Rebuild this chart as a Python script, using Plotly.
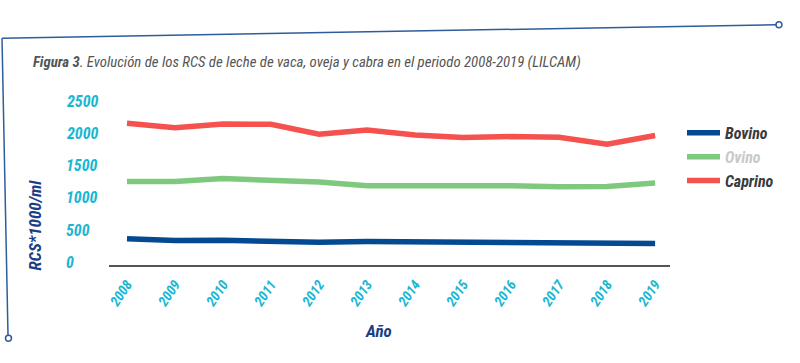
import plotly.graph_objects as go

years = list(range(2008, 2020))
bovino = [366, 340, 344, 329, 313, 324, 319, 313, 293, 293, 293, 293]
ovino = [1255, 1255, 1301, 1270, 1245, 1188, 1193, 1177, 1188, 1173, 1177, 1230]
caprino = [2156, 2088, 2145, 2140, 1986, 2052, 1975, 1934, 1949, 1940, 1832, 1965]
y_ticks = [0, 500, 1000, 1500, 2000, 2500]

FONT = "Liberation Sans Narrow, Roboto Condensed, DejaVu Sans Condensed, Arial Narrow, Roboto, sans-serif"
CYAN = "#1ab6d2"
NAVY = "#1b3f86"
DECO = "#2d5d9c"

W, H = 800, 363
L, R, T, B = 109, 130, 101, 97.5

fig = go.Figure()
fig.add_trace(go.Scatter(x=years, y=bovino, mode="lines", name="Bovino", legendgroup="a",
                         line=dict(color="#034a93", width=5.5)))
fig.add_trace(go.Scatter(x=years, y=ovino, mode="lines", legendgroup="b",
                         name="<span style='color:#c9c9c9'>Ovino</span>",
                         line=dict(color="#7fc97f", width=5.5)))
fig.add_trace(go.Scatter(x=years, y=caprino, mode="lines", name="Caprino", legendgroup="c",
                         line=dict(color="#f5524f", width=5.5)))

pw = W - L - R
ph = H - T - B

def px_x(px):
    return (px - L) / pw

def px_y(py):
    return (H - B - py) / ph

annotations = []
for v in y_ticks:
    annotations.append(dict(x=px_x(64), xref="paper", y=v, yref="y", text=str(v),
                            showarrow=False, xanchor="left", yanchor="middle",
                            font=dict(family=FONT, size=16, color=CYAN, weight="bold", style="italic")))
annotations.append(dict(x=px_x(31), xref="paper", y=px_y(62), yref="paper",
                        text="<b>Figura 3</b>. Evolución de los RCS de leche de vaca, oveja y cabra en el periodo 2008-2019 (LILCAM)",
                        showarrow=False, xanchor="left", yanchor="middle",
                        font=dict(family=FONT, size=14.8, color="#555555", style="italic")))
annotations.append(dict(x=px_x(35), xref="paper", y=px_y(226), yref="paper", text="RCS*1000/ml",
                        textangle=-90, showarrow=False, xanchor="center", yanchor="middle",
                        font=dict(family=FONT, size=17, color=NAVY, weight="bold", style="italic")))
annotations.append(dict(x=px_x(378), xref="paper", y=px_y(332), yref="paper", text="Año",
                        showarrow=False, xanchor="center", yanchor="middle",
                        font=dict(family=FONT, size=17, color=NAVY, weight="bold", style="italic")))

shapes = [
    dict(type="line", xref="paper", yref="paper", x0=px_x(2), y0=px_y(38), x1=px_x(776), y1=px_y(24.5),
         line=dict(color=DECO, width=1.5)),
    dict(type="line", xref="paper", yref="paper", x0=px_x(2), y0=px_y(38), x1=px_x(8), y1=px_y(336),
         line=dict(color=DECO, width=1.5)),
    dict(type="circle", xref="paper", yref="paper", x0=px_x(776), y0=px_y(21.5), x1=px_x(782), y1=px_y(27.5),
         line=dict(color=DECO, width=1.5), fillcolor="white"),
    dict(type="circle", xref="paper", yref="paper", x0=px_x(5.5), y0=px_y(336), x1=px_x(11.5), y1=px_y(342),
         line=dict(color=DECO, width=1.5), fillcolor="white"),
]

fig.update_layout(
    width=W, height=H,
    margin=dict(l=L, r=R, t=T, b=B, pad=0),
    paper_bgcolor="white", plot_bgcolor="white",
    showlegend=True,
    legend=dict(x=px_x(682), y=px_y(116), xanchor="left", yanchor="top",
                font=dict(family=FONT, size=16, color="#3a3a3a", weight="bold", style="italic"),
                bgcolor="rgba(0,0,0,0)", itemwidth=33, tracegroupgap=0),
    annotations=annotations,
    shapes=shapes,
)
fig.update_xaxes(range=[2007.625, 2019.31], tickmode="array", tickvals=years,
                 ticktext=[str(y) for y in years], tickangle=-56,
                 tickfont=dict(family=FONT, size=14, color=CYAN, weight="bold", style="italic"),
                 showline=True, linecolor="#555555", linewidth=1.5, showgrid=False,
                 zeroline=False, ticks="", ticklabelstandoff=4)
fig.update_yaxes(range=[-38.6, 2500], showticklabels=False, showgrid=False, zeroline=False,
                 showline=False, ticks="")

fig.write_html("out.html", config={"displayModeBar": False},
               post_script="document.body.style.margin='0';document.body.style.overflow='hidden';")
